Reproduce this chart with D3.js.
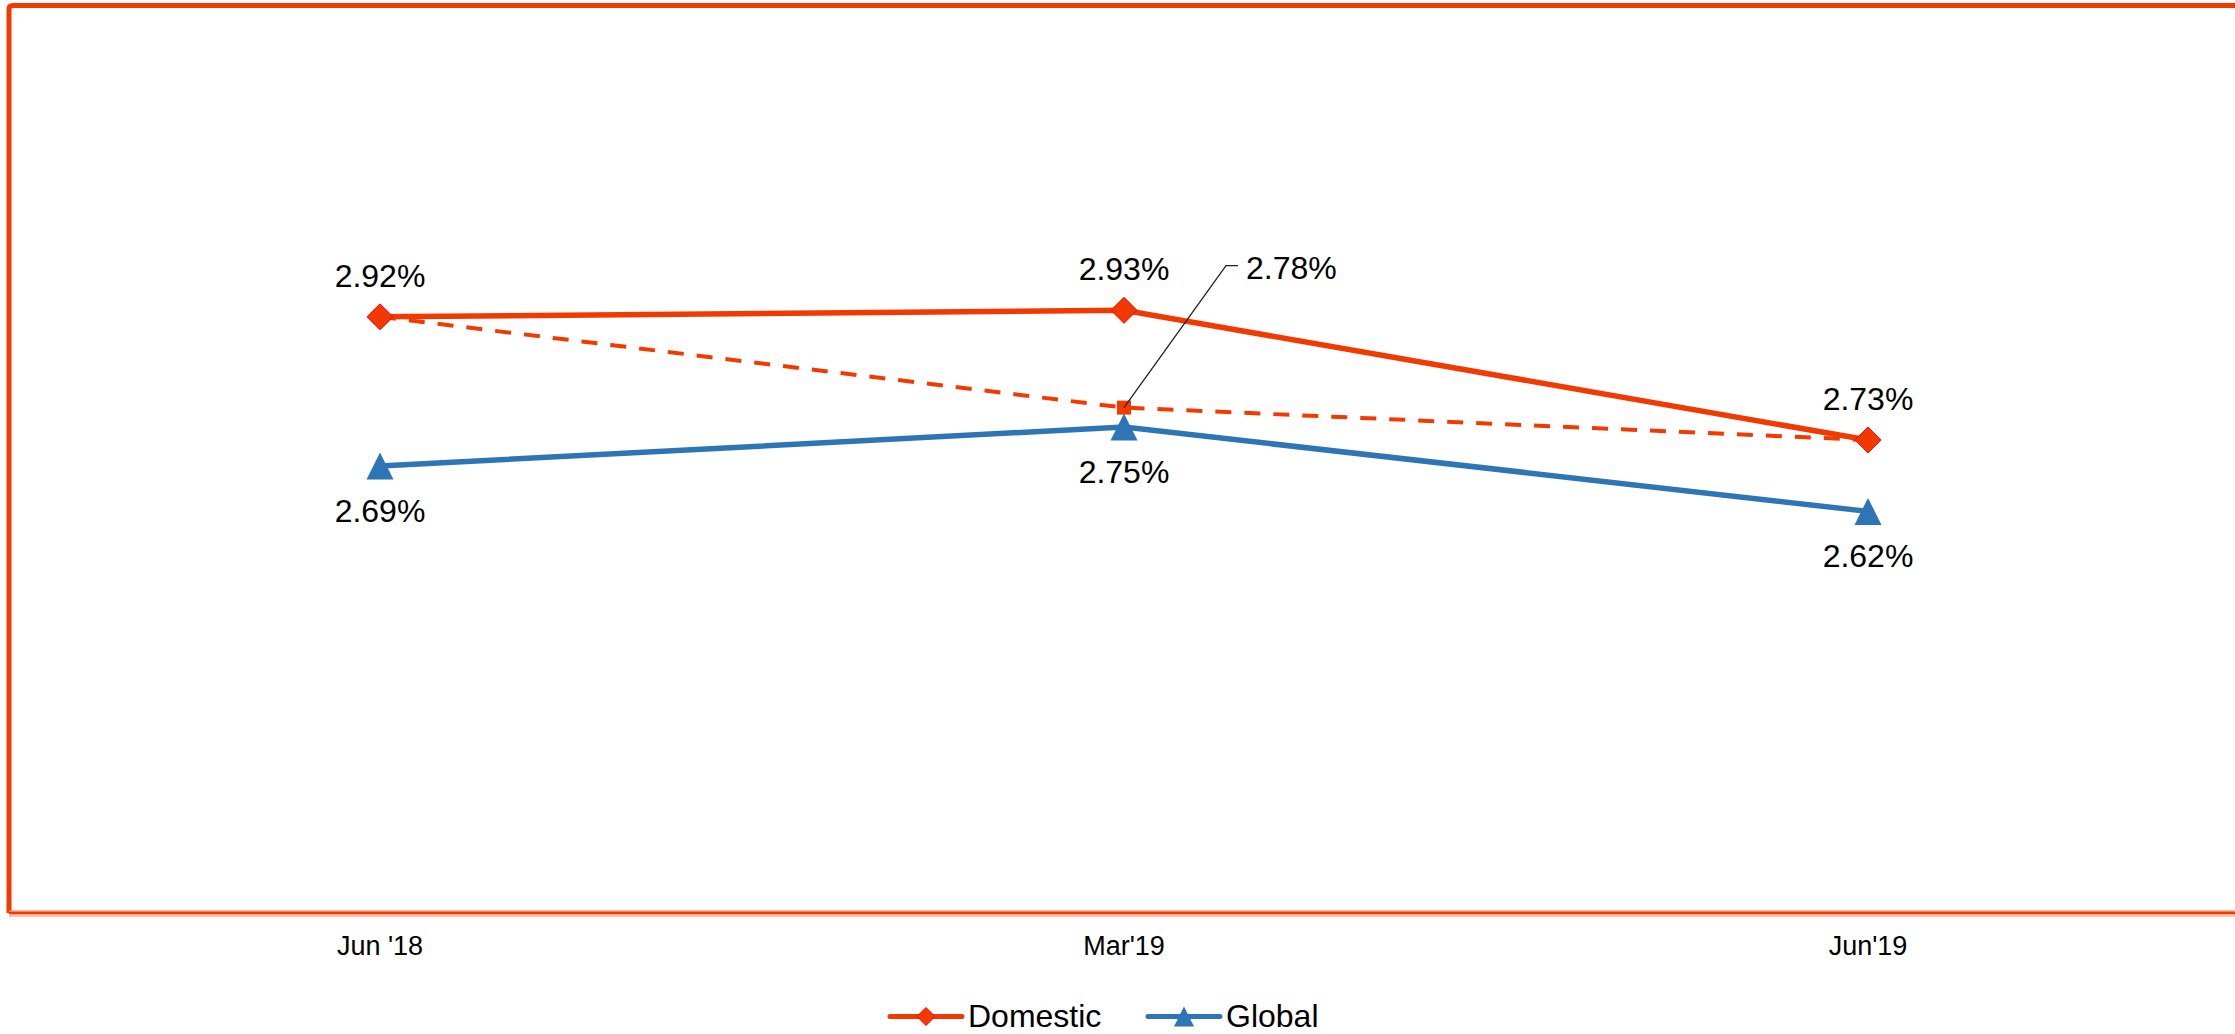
<!DOCTYPE html>
<html>
<head>
<meta charset="utf-8">
<script src="https://cdn.jsdelivr.net/npm/d3@7"></script>
<style>
  html, body { margin: 0; padding: 0; background: #fff; }
  svg { display: block; font-family: "Liberation Sans", Arial, sans-serif; }
</style>
</head>
<body>
<svg id="chart" width="2235" height="1034"></svg>
<script>
// ---- data ----
const categories = ["Jun '18", "Mar'19", "Jun'19"];
const domestic = [2.92, 2.93, 2.73];
const global = [2.69, 2.75, 2.62];
const domesticTrend = [2.92, 2.78, 2.73];   // dashed series
const seriesNames = ["Domestic", "Global"];

// ---- styles ----
const ORANGE = "#F23A00";
const BLUE = "#2E75B6";

const svg = d3.select("#chart");
const W = 2235, H = 1034;

const x = d3.scaleBand().domain(categories).range([8, 2240]).padding(0);
const y = d3.scaleLinear().domain([2.0, 3.4]).range([913.5, 5.5]);
const cx = c => x(c) + x.bandwidth() / 2;

// frame
svg.append("path")
  .attr("d", `M9,913 L9,9 Q9,5.5 13,5.5 L${W + 10},5.5`)
  .attr("fill", "none").attr("stroke", ORANGE).attr("stroke-width", 5);
svg.append("line").attr("x1", 9).attr("x2", W + 10).attr("y1", 913.5).attr("y2", 913.5)
  .attr("stroke", "#F98058").attr("stroke-width", 6);
svg.append("line").attr("x1", 9).attr("x2", W + 10).attr("y1", 913).attr("y2", 913)
  .attr("stroke", ORANGE).attr("stroke-width", 2.2);
svg.append("line").attr("x1", 9).attr("x2", W + 10).attr("y1", 915.2).attr("y2", 915.2)
  .attr("stroke", "#FFE5DC").attr("stroke-width", 1);

// x axis labels
const xAxis = d3.axisBottom(x).tickSize(0).tickPadding(22.3);
const gx = svg.append("g").attr("transform", "translate(0,913.5)").call(xAxis);
gx.select(".domain").remove();
gx.selectAll("text").attr("font-size", 27).attr("fill", "#000")
  .attr("font-family", "Liberation Sans, Arial, sans-serif");

// lines
const line = d3.line().x((d, i) => cx(categories[i])).y(d => y(d));

svg.append("path").datum(domesticTrend).attr("d", line)
  .attr("fill", "none").attr("stroke", ORANGE).attr("stroke-width", 4)
  .attr("stroke-dasharray", "16,13");
svg.append("path").datum(global).attr("d", line)
  .attr("fill", "none").attr("stroke", BLUE).attr("stroke-width", 5.5);
svg.append("path").datum(domestic).attr("d", line)
  .attr("fill", "none").attr("stroke", ORANGE).attr("stroke-width", 5.5);

// markers
const diamond = s => `M0,${-s} L${s},0 L0,${s} L${-s},0 Z`;
const triangle = s => `M0,${-s} L${s},${s} L${-s},${s} Z`;

svg.append("g").selectAll("rect").data(domesticTrend).join("rect")
  .attr("x", (d, i) => cx(categories[i]) - 7).attr("y", d => y(d) - 7)
  .attr("width", 14).attr("height", 14).attr("fill", ORANGE);

svg.append("g").selectAll("path").data(global).join("path")
  .attr("transform", (d, i) => `translate(${cx(categories[i])},${y(d)})`)
  .attr("d", triangle(13.5)).attr("fill", BLUE);

svg.append("g").selectAll("path").data(domestic).join("path")
  .attr("transform", (d, i) => `translate(${cx(categories[i])},${y(d)})`)
  .attr("d", diamond(13)).attr("fill", ORANGE).attr("stroke", "#FF0000").attr("stroke-width", 1);

// data labels
const fmt = v => v.toFixed(2) + "%";
svg.append("g").selectAll("text").data(domestic).join("text")
  .attr("x", (d, i) => cx(categories[i])).attr("y", d => y(d) - 30)
  .attr("text-anchor", "middle").attr("font-size", 32).attr("fill", "#000")
  .text(fmt);
svg.append("g").selectAll("text").data(global).join("text")
  .attr("x", (d, i) => cx(categories[i])).attr("y", d => y(d) + 56)
  .attr("text-anchor", "middle").attr("font-size", 32).attr("fill", "#000")
  .text(fmt);

// callout label for the dashed series middle point
{
  const px = cx(categories[1]), py = y(domesticTrend[1]);
  svg.append("path")
    .attr("d", `M${px},${py} L${px + 102},${py - 142} L${px + 114},${py - 142}`)
    .attr("fill", "none").attr("stroke", "#222").attr("stroke-width", 1.3);
  svg.append("text").attr("x", px + 122).attr("y", py - 129)
    .attr("font-size", 32).attr("fill", "#000").text(fmt(domesticTrend[1]));
}

// legend
const legend = svg.append("g");
const legItems = [
  { name: seriesNames[0], color: ORANGE, x0: 890, shape: "diamond" },
  { name: seriesNames[1], color: BLUE, x0: 1148, shape: "triangle" }
];
legItems.forEach(it => {
  const g = legend.append("g");
  g.append("line").attr("x1", it.x0).attr("x2", it.x0 + 72).attr("y1", 1016.5).attr("y2", 1016.5)
    .attr("stroke", it.color).attr("stroke-width", 5).attr("stroke-linecap", "round");
  if (it.shape === "diamond") {
    g.append("path").attr("transform", `translate(${it.x0 + 36},1016.5)`).attr("d", diamond(9))
      .attr("fill", it.color).attr("stroke", "#FF0000").attr("stroke-width", 1);
  } else {
    g.append("path").attr("transform", `translate(${it.x0 + 36},1016.5)`).attr("d", triangle(10))
      .attr("fill", it.color);
  }
  g.append("text").attr("x", it.x0 + 78).attr("y", 1027).attr("font-size", 32).attr("fill", "#000")
    .text(it.name);
});
</script>
</body>
</html>
